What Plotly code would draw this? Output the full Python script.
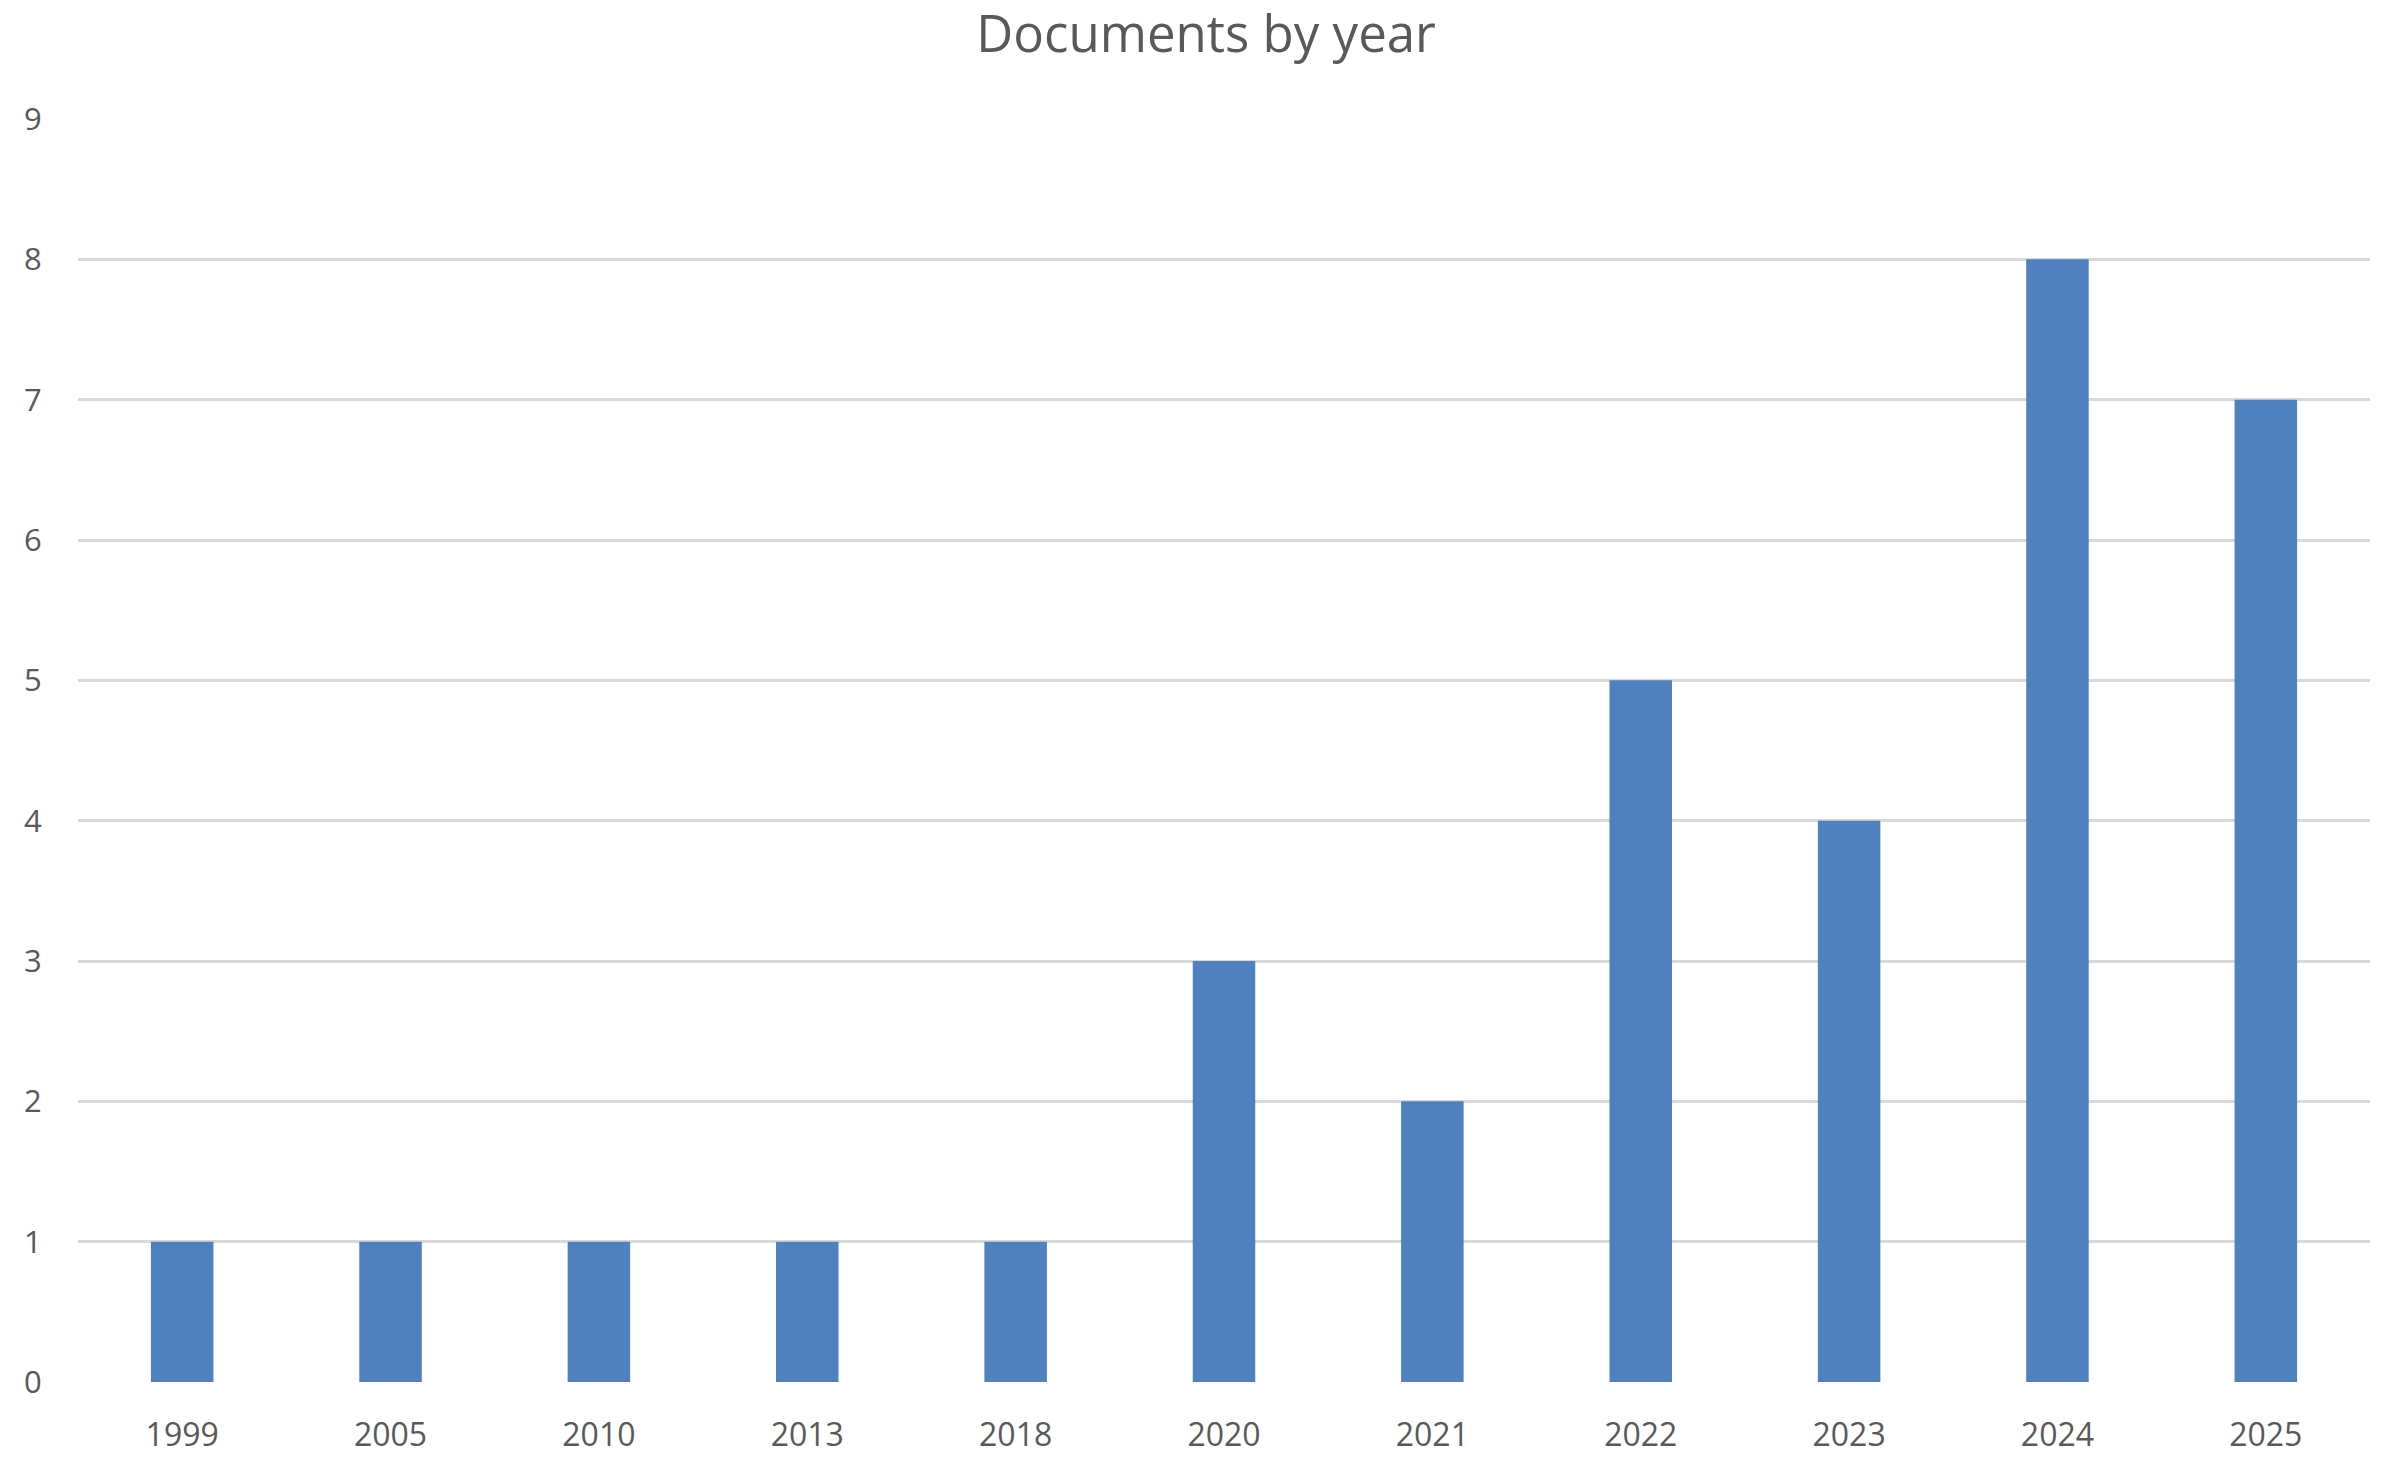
import plotly.graph_objects as go

# Data
years = ['1999', '2005', '2010', '2013', '2018', '2020', '2021', '2022', '2023', '2024', '2025']
documents = [1, 1, 1, 1, 1, 3, 2, 5, 4, 8, 7]
y_ticks = list(range(0, 10))

bar_color = '#4e81bd'
text_color = '#595959'
grid_color = '#d9d9d9'
font_family = 'Open Sans, Noto Sans, sans-serif'

# the page body adds an 8px margin, so the figure is sized to fit inside it
fig_w, fig_h = 2382, 1455

fig = go.Figure()

fig.add_trace(go.Bar(
    x=years,
    y=documents,
    marker=dict(color=bar_color, line=dict(width=0)),
    hovertemplate='<b>%{x}</b><br>Documents: %{y}<extra></extra>'
))

fig.update_layout(
    width=fig_w,
    height=fig_h,
    paper_bgcolor='white',
    plot_bgcolor='white',
    showlegend=False,
    bargap=0.7,
    margin=dict(l=70, r=20, t=111, b=81),
    font=dict(family=font_family, color=text_color),
    title=dict(
        text='Documents by year',
        x=0.503,
        xanchor='center',
        y=1 - 8 / fig_h,
        yanchor='top',
        font=dict(size=51, color=text_color, family=font_family)
    )
)

fig.update_xaxes(
    type='category',
    automargin=False,
    showgrid=False,
    showline=False,
    ticks='outside',
    ticklen=25,
    tickcolor='rgba(0,0,0,0)',
    tickfont=dict(size=32, color=text_color)
)

fig.update_yaxes(
    range=[0, 9],
    tickvals=y_ticks,
    automargin=False,
    showgrid=True,
    gridcolor=grid_color,
    gridwidth=3,
    zeroline=False,
    showline=False,
    ticks='outside',
    ticklen=29,
    tickcolor='rgba(0,0,0,0)',
    tickfont=dict(size=31, color=text_color)
)

fig.write_html('out.html')
